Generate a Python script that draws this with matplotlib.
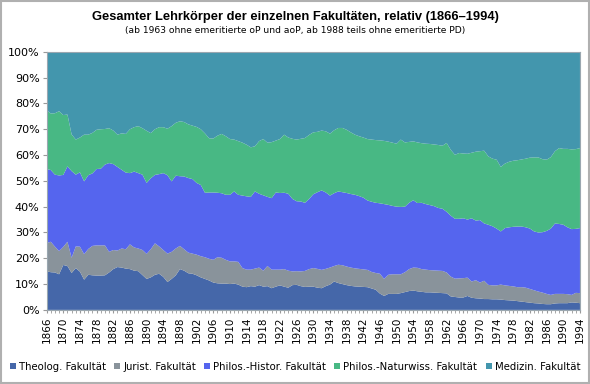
import numpy as np
import matplotlib
matplotlib.use("Agg")
import matplotlib.pyplot as plt
from matplotlib.patches import Patch

# Jahre
jahre = np.arange(1866, 1995)

# kumulierte Anteile in % (Oberkante jeder Fläche)
kum_theolog = [
    15.0, 14.6, 14.5, 13.8, 17.4, 17.0, 14.3, 16.2, 14.8, 11.7,
    13.6, 13.4, 13.3, 13.3, 13.4, 14.5, 15.8, 16.6, 16.4, 16.0,
    15.8, 15.2, 15.0, 13.5, 12.0, 12.6, 13.6, 14.0, 12.8, 10.8,
    12.0, 13.4, 15.8, 15.2, 14.2, 14.0, 13.4, 12.6, 12.0, 11.4,
    10.6, 10.3, 10.2, 10.2, 10.0, 10.2, 9.8, 9.0, 8.8, 9.2,
    9.0, 9.6, 9.0, 9.2, 8.4, 9.0, 9.5, 9.0, 8.6, 9.6,
    9.7, 9.2, 8.9, 9.0, 9.0, 8.6, 8.4, 9.2, 9.8, 11.0,
    10.4, 10.0, 9.6, 9.3, 9.1, 9.0, 8.9, 8.8, 8.3, 7.8,
    6.3, 5.4, 6.2, 6.2, 6.2, 6.5, 6.9, 7.3, 7.5, 7.2,
    7.0, 6.8, 6.8, 6.7, 6.6, 6.5, 6.4, 5.2, 5.0, 4.8,
    4.8, 5.4, 4.7, 4.5, 4.4, 4.2, 4.2, 4.1, 4.1, 4.0,
    3.8, 3.7, 3.6, 3.4, 3.2, 3.0, 2.8, 2.6, 2.5, 2.3,
    2.2, 2.2, 2.5, 2.6, 2.6, 2.6, 2.9, 2.8, 2.6,
]
kum_jurist = [
    25.9, 26.4, 24.5, 22.8, 24.4, 26.4, 20.2, 24.6, 24.5, 21.6,
    23.6, 24.8, 25.0, 25.0, 25.0, 22.5, 23.2, 23.0, 23.8, 23.5,
    25.4, 24.2, 23.8, 23.2, 21.7, 23.5, 25.8, 24.6, 23.2, 21.8,
    22.5, 23.8, 24.8, 23.5, 22.2, 21.8, 21.4, 20.8, 20.4, 19.8,
    19.4, 20.4, 20.2, 19.4, 18.8, 18.8, 18.6, 16.2, 15.6, 15.6,
    16.0, 16.4, 15.2, 17.0, 15.6, 15.6, 15.6, 15.8, 15.2, 14.9,
    15.0, 14.9, 15.1, 15.8, 16.2, 15.9, 15.5, 15.9, 16.4, 17.0,
    17.5, 17.3, 16.8, 16.4, 16.1, 15.9, 15.7, 15.5, 14.7, 14.3,
    14.0, 12.0, 13.6, 13.8, 13.8, 13.8, 14.6, 15.8, 16.4, 16.3,
    15.8, 15.6, 15.4, 15.3, 15.2, 15.1, 14.5, 12.9, 12.1, 12.2,
    12.3, 12.5, 11.0, 11.5, 10.6, 11.3, 9.7, 9.5, 9.5, 9.8,
    9.5, 9.3, 9.1, 8.8, 8.8, 8.6, 8.1, 7.6, 7.1, 6.7,
    6.2, 5.8, 6.2, 6.2, 6.2, 6.1, 5.8, 6.6, 6.5,
]
kum_histor = [
    54.6, 54.2, 52.4, 52.1, 52.3, 55.6, 53.8, 52.4, 53.3, 49.8,
    52.2, 52.9, 54.6, 54.7, 56.3, 56.9, 56.5, 55.4, 54.3, 53.2,
    53.0, 53.6, 53.0, 52.4, 49.2, 51.0, 52.3, 52.6, 53.0, 52.2,
    49.8, 52.0, 51.8, 51.7, 51.1, 50.7, 49.2, 48.4, 45.4, 45.5,
    45.5, 45.4, 45.2, 44.6, 44.6, 45.9, 44.6, 44.3, 44.0, 43.8,
    45.9, 45.0, 44.4, 43.8, 43.3, 45.5, 45.3, 45.4, 45.0, 43.0,
    42.1, 42.0, 41.5, 43.0, 44.8, 45.6, 46.3, 45.5, 44.3, 45.2,
    45.9, 45.6, 45.3, 44.9, 44.6, 44.1, 43.5, 42.4, 41.9, 41.5,
    41.3, 41.0, 40.7, 40.3, 40.0, 39.9, 40.0, 41.5, 42.5, 41.4,
    41.5, 41.0, 40.6, 40.2, 39.5, 39.2, 38.0, 36.5, 35.3, 35.3,
    35.5, 35.0, 35.5, 34.6, 34.8, 33.5, 33.0, 32.4, 31.5, 30.4,
    31.7, 32.0, 32.2, 32.3, 32.3, 32.0, 31.5, 30.4, 30.0, 30.1,
    30.6, 31.5, 33.5, 33.3, 33.0, 32.0, 31.3, 31.4, 31.7,
]
kum_naturw = [
    77.4, 76.1, 76.2, 77.0, 75.5, 75.7, 68.0, 66.0, 66.8, 67.9,
    67.9, 68.6, 69.8, 70.0, 70.1, 70.4, 69.5, 67.9, 68.4, 68.2,
    70.0, 70.8, 71.2, 70.4, 69.4, 68.5, 70.0, 70.8, 70.8, 70.2,
    71.2, 72.5, 73.1, 72.8, 71.9, 71.4, 70.9, 70.0, 68.4, 66.5,
    66.4, 67.5, 68.2, 67.3, 66.2, 66.0, 65.4, 64.8, 64.0, 63.0,
    63.4, 65.4, 66.2, 64.8, 65.0, 65.6, 66.2, 67.9, 66.8, 66.3,
    66.0, 66.3, 66.6, 67.8, 68.8, 69.0, 69.5, 69.2, 68.3, 69.6,
    70.5, 70.5, 69.8, 68.8, 67.9, 67.3, 66.8, 66.2, 66.0, 65.8,
    65.7, 65.5, 65.2, 64.8, 64.4, 66.0, 64.9, 65.1, 65.3, 64.9,
    64.6, 64.4, 64.3, 64.1, 63.9, 63.6, 64.7, 62.0, 60.1, 60.8,
    60.6, 60.5, 60.9, 61.3, 61.5, 61.7, 59.5, 58.6, 58.2, 55.4,
    56.7, 57.4, 57.8, 58.0, 58.3, 58.6, 59.0, 59.1, 59.1, 58.4,
    58.2, 59.2, 61.5, 62.7, 62.4, 62.4, 62.2, 62.3, 62.7,
]

fakultaeten = ['Theolog. Fakultät', 'Jurist. Fakultät', 'Philos.-Histor. Fakultät',
               'Philos.-Naturwiss. Fakultät', 'Medizin. Fakultät']
farben = ['#4567a9', '#89939b', '#5565ee', '#48b884', '#4396ad']

# Anteile je Fakultät aus den kumulierten Werten
kum = np.array([np.zeros(len(jahre)), kum_theolog, kum_jurist, kum_histor, kum_naturw,
                np.full(len(jahre), 100.0)])
anteile = np.diff(kum, axis=0)

fig = plt.figure(figsize=(5.9, 3.84), dpi=100)
ax = fig.add_axes([0.079, 0.193, 0.904, 0.672])
ax.stackplot(jahre, anteile, colors=farben, linewidth=0)

ax.set_xlim(1866, 1994)
ax.set_ylim(0, 100)
ax.set_yticks(np.arange(0, 101, 10))
ax.set_yticklabels([f'{v}%' for v in range(0, 101, 10)], fontsize=8)
ax.set_xticks(np.arange(1866, 1995, 4))
ax.set_xticks(jahre, minor=True)
ax.set_xticklabels([str(j) for j in range(1866, 1995, 4)], rotation=90, fontsize=7.5)
ax.tick_params(axis='x', which='both', length=2, color='#999999', pad=3)
ax.tick_params(axis='y', length=3, color='#999999', pad=2)
for s in ax.spines.values():
    s.set_color('#9aa7b0')
    s.set_linewidth(0.8)

fig.text(0.5, 0.957, 'Gesamter Lehrkörper der einzelnen Fakultäten, relativ (1866–1994)',
         ha='center', va='center', fontsize=9.3, fontweight='bold', family='Liberation Sans')
fig.text(0.5, 0.92, '(ab 1963 ohne emeritierte oP und aoP, ab 1988 teils ohne emeritierte PD)',
         ha='center', va='center', fontsize=6.6)

handles = [Patch(facecolor=c, edgecolor='none') for c in farben]
fig.legend(handles, fakultaeten, loc='center', bbox_to_anchor=(0.5, 0.045), ncol=5,
           frameon=False, fontsize=7.3, handlelength=0.6, handleheight=0.6,
           handletextpad=0.3, columnspacing=0.8)

# grauer Rahmen um die ganze Grafik
fig.patches.append(plt.Rectangle((0.002, 0.003), 0.996, 0.994, transform=fig.transFigure,
                                 fill=False, edgecolor='#b0b0b0', linewidth=1.5))

fig.savefig('out.png', dpi=100)
